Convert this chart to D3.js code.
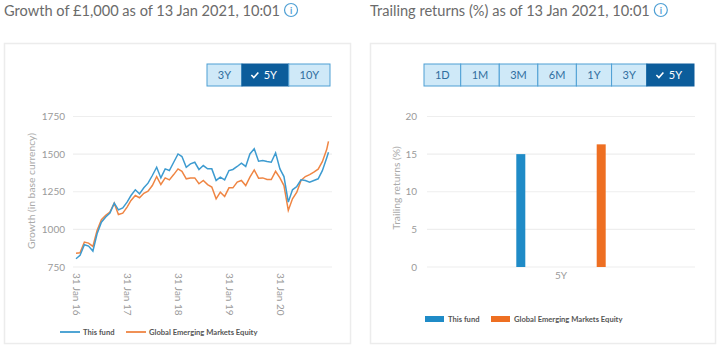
<!DOCTYPE html>
<html><head><meta charset="utf-8">
<script src="https://cdn.jsdelivr.net/npm/d3@7"></script>
<style>
body{margin:0;background:#fff;font-family:Lato,"Open Sans",sans-serif;}
svg{display:block}
</style></head><body>
<svg id="c" width="720" height="346"></svg>
<script>
// ---------- data ----------
const fundName = "This fund";
const benchName = "Global Emerging Markets Equity";
const growthTitle = "Growth of £1,000 as of 13 Jan 2021, 10:01";
const returnsTitle = "Trailing returns (%) as of 13 Jan 2021, 10:01";
const growthStart = "2016-01-31";
const growthAsOf = "2021-01-13";
const fundGrowth = [805,827,898,889,856,971,1048,1082,1108,1174,1130,1143,
  1181,1225,1263,1236,1276,1307,1358,1413,1342,1402,1391,1446,
  1501,1484,1413,1435,1446,1398,1424,1402,1402,1325,1347,1329,
  1391,1398,1418,1440,1418,1501,1535,1453,1457,1451,1446,1508,
  1402,1351,1181,1263,1285,1329,1325,1314,1325,1336,1390,1475,1512];
const benchGrowth = [842,845,916,909,887,993,1064,1093,1115,1174,1099,1108,
  1148,1192,1225,1210,1240,1254,1291,1351,1298,1342,1329,1364,
  1402,1386,1336,1342,1342,1303,1325,1298,1281,1203,1247,1219,
  1276,1276,1314,1325,1291,1347,1395,1340,1342,1331,1331,1386,
  1342,1291,1126,1203,1247,1325,1351,1364,1380,1400,1450,1530,1585];
const growthTicks = [750,1000,1250,1500,1750];
const growthTickDates = ["2016-01-31","2017-01-31","2018-01-31","2019-01-31","2020-01-31"];
const growthButtons = ["3Y","5Y","10Y"];
const growthSelected = "5Y";

const returnCategories = ["5Y"];
const fundReturns = [15.0];
const benchReturns = [16.3];
const returnTicks = [0,5,10,15,20];
const returnButtons = ["1D","1M","3M","6M","1Y","3Y","5Y"];
const returnSelected = "5Y";

// ---------- styles ----------
const C = {fund:"#3d9bd0", bench:"#ef8543", fundBar:"#1f8bc7", benchBar:"#ee6f22",
  grid:"#eeeeee", tick:"#9a9a9a", title:"#6b6b6b", border:"#ececec",
  btnFill:"#cfe9f8", btnStroke:"#4e9fd4", btnText:"#2f6e9f", btnSel:"#0c5d9b"};

const svg = d3.select("#c");
const parse = d3.timeParse("%Y-%m-%d");

// panels
function panel(x,y,w,h){
  svg.append("rect").attr("x",x+0.5).attr("y",y+0.5).attr("width",w).attr("height",h)
    .attr("fill","#fff").attr("stroke",C.border).attr("stroke-width",1.5);
}
panel(4,43,346,300);
panel(370,43,345,300);

function title(x, text){
  const t = svg.append("text").attr("x",x).attr("y",15.5).attr("fill",C.title)
    .style("font-size","14.6px").text(text);
  const w = t.node().getComputedTextLength();
  const cx = x + w + 11, cy = 10;
  svg.append("circle").attr("cx",cx).attr("cy",cy).attr("r",6.5)
    .attr("fill","none").attr("stroke",C.btnStroke).attr("stroke-width",1.2);
  svg.append("text").attr("x",cx).attr("y",cy+3.5).attr("text-anchor","middle")
    .attr("fill",C.btnStroke).style("font-size","9px").style("font-weight","bold").text("i");
}
title(4, growthTitle);
title(370, returnsTitle);

function buttons(names, selected, x0, x1, y, h){
  const g = svg.append("g");
  const tmp = names.map(n=>{
    const t = g.append("text").style("font-size","11px").text(n);
    const w = t.node().getComputedTextLength() + (n===selected?12:0) + 22;
    t.remove(); return w;
  });
  const total = d3.sum(tmp), k = (x1-x0)/total;
  let x = x0;
  names.forEach((n,i)=>{
    const w = tmp[i]*k, sel = n===selected;
    g.append("rect").attr("x",x).attr("y",y).attr("width",w).attr("height",h)
      .attr("fill",sel?C.btnSel:C.btnFill).attr("stroke",sel?C.btnSel:C.btnStroke).attr("stroke-width",1);
    const cx = x + w/2;
    if(sel){
      g.append("path").attr("d",`M${cx-14},${y+h/2} l2.5,2.5 l4.5,-5`)
        .attr("fill","none").attr("stroke","#fff").attr("stroke-width",1.6);
      g.append("text").attr("x",cx+5).attr("y",y+h/2+4).attr("text-anchor","middle")
        .attr("fill","#fff").style("font-size","11px").text(n);
    } else {
      g.append("text").attr("x",cx).attr("y",y+h/2+4).attr("text-anchor","middle")
        .attr("fill",C.btnText).style("font-size","11px").text(n);
    }
    x += w;
  });
}
buttons(growthButtons, growthSelected, 207, 330, 64, 22);
buttons(returnButtons, returnSelected, 424, 694, 64, 22);

// ---------- growth line chart ----------
const dates = d3.range(fundGrowth.length-1).map(i=>d3.timeDay.offset(d3.timeMonth.offset(d3.timeMonth.floor(parse(growthStart)), i+1), -1));
dates.push(parse(growthAsOf));
const x = d3.scaleTime().domain([parse(growthTickDates[0]), parse("2021-01-31")]).range([76,331]);
const y = d3.scaleLinear().domain([750,1750]).range([267,116.5]);

const gL = svg.append("g");
gL.selectAll("line.grid").data(growthTicks).join("line")
  .attr("x1",73).attr("x2",332).attr("y1",d=>y(d)).attr("y2",d=>y(d))
  .attr("stroke",C.grid).attr("stroke-width",1.2);
const yAxisL = d3.axisLeft(y).tickValues(growthTicks).tickFormat(d3.format("d")).tickSize(0).tickPadding(0);
gL.append("g").attr("transform","translate(65,0)").call(yAxisL)
  .call(g=>g.select(".domain").remove())
  .call(g=>g.selectAll("text").attr("fill",C.tick).style("font-size","10px").style("font-family","Lato"));
const fmt = d3.timeFormat("%d %b %y");
const xAxisL = d3.axisBottom(x).tickValues(growthTickDates.map(parse)).tickFormat(fmt).tickSize(0).tickPadding(0);
gL.append("g").attr("transform","translate(0,273)").call(xAxisL)
  .call(g=>g.select(".domain").remove())
  .call(g=>g.selectAll("text").attr("fill",C.tick).style("font-size","10px").style("font-family","Lato")
     .attr("y",0).attr("transform","rotate(90)").attr("text-anchor","start")
     .attr("x",0).attr("dy","0.35em"));
gL.append("text").attr("transform","translate(35,191) rotate(-90)").attr("text-anchor","middle")
  .attr("fill","#aaa").style("font-size","10.3px").text("Growth (in base currency)");

const line = d3.line().x((d,i)=>x(dates[i])).y(d=>y(d));
gL.append("path").datum(benchGrowth).attr("d",line).attr("fill","none").attr("stroke",C.bench).attr("stroke-width",1.5);
gL.append("path").datum(fundGrowth).attr("d",line).attr("fill","none").attr("stroke",C.fund).attr("stroke-width",1.5);

// legend left
const legL = [[fundName,C.fund,60],[benchName,C.bench,126]];
legL.forEach(([n,c,lx])=>{
  gL.append("line").attr("x1",lx).attr("x2",lx+20).attr("y1",332).attr("y2",332).attr("stroke",c).attr("stroke-width",1.8);
  gL.append("text").attr("x",lx+23).attr("y",334.7).attr("fill","#555").style("font-size","7.6px").style("font-weight","bold").text(n);
});

// ---------- trailing returns bar chart ----------
const yR = d3.scaleLinear().domain([0,20]).range([267,116.5]);
const x0 = d3.scaleBand().domain(returnCategories).range([427,695]).padding(0.25);
const x1 = d3.scaleBand().domain([fundName,benchName]).range([0,x0.bandwidth()]);
const gR = svg.append("g");
gR.selectAll("line.grid").data(returnTicks).join("line")
  .attr("x1",427).attr("x2",695).attr("y1",d=>yR(d)).attr("y2",d=>yR(d))
  .attr("stroke",C.grid).attr("stroke-width",1.2);
gR.append("g").attr("transform","translate(417,0)").call(d3.axisLeft(yR).tickValues(returnTicks).tickSize(0).tickPadding(0))
  .call(g=>g.select(".domain").remove())
  .call(g=>g.selectAll("text").attr("fill",C.tick).style("font-size","10px").style("font-family","Lato"));
gR.append("g").attr("transform","translate(0,272)").call(d3.axisBottom(x0).tickSize(0).tickPadding(0))
  .call(g=>g.select(".domain").remove())
  .call(g=>g.selectAll("text").attr("fill",C.tick).style("font-size","10px").style("font-family","Lato"));
gR.append("text").attr("transform","translate(400,188) rotate(-90)").attr("text-anchor","middle")
  .attr("fill","#aaa").style("font-size","10.3px").text("Trailing returns (%)");

const barW = 9;
const rows = returnCategories.map((c,i)=>[{c,s:fundName,v:fundReturns[i],col:C.fundBar},{c,s:benchName,v:benchReturns[i],col:C.benchBar}]).flat();
gR.selectAll("rect.bar").data(rows).join("rect")
  .attr("x",d=>x0(d.c)+x1(d.s)+x1.bandwidth()/2-barW/2).attr("width",barW)
  .attr("y",d=>yR(d.v)).attr("height",d=>yR(0)-yR(d.v)).attr("fill",d=>d.col);

const legR = [[fundName,C.fundBar,425],[benchName,C.benchBar,491]];
legR.forEach(([n,c,lx])=>{
  gR.append("rect").attr("x",lx).attr("y",316).attr("width",19).attr("height",6).attr("fill",c);
  gR.append("text").attr("x",lx+23).attr("y",321.7).attr("fill","#555").style("font-size","7.6px").style("font-weight","bold").text(n);
});
</script>
</body></html>
